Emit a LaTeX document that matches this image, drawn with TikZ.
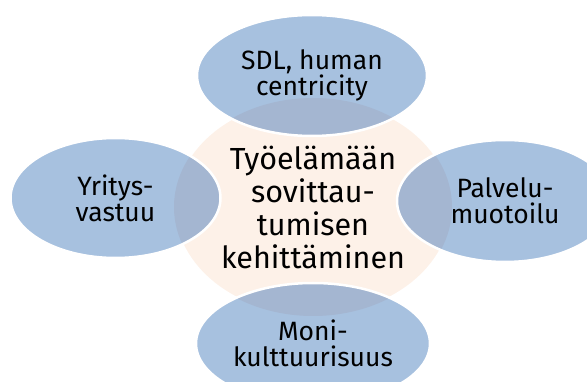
\documentclass[tikz,border=0pt]{standalone}
\usepackage{fontspec}
\setmainfont{Fira Sans}
\usetikzlibrary{shapes.geometric}
\definecolor{petalblue}{HTML}{A7C1DF}
\definecolor{petalover}{HTML}{A4B6D1}
\definecolor{hubpeach}{HTML}{FDF1E8}
\begin{document}
\begin{tikzpicture}[x=1pt,y=-1pt,
  hubshape/.style={ellipse, fill=hubpeach, draw=white, line width=2.5pt,
    inner sep=0pt, align=center, font=\fontsize{30.5}{33}\selectfont},
  % satellite ellipses: darker where they lie over the hub, white rim on top
  petal/.style={ellipse, fill=petalblue, inner sep=0pt, align=center,
    font=\fontsize{26.5}{26}\selectfont,
    path picture={\fill[petalover] (core.center) ellipse [x radius=139pt, y radius=109pt];},
    postaction={draw=white, line width=2.5pt}},
]
\useasboundingbox (0,0) rectangle (587,382);
\fill[white] (0,0) rectangle (587,382);

\node[hubshape, minimum width=278pt, minimum height=218pt] (core) at (313,207)
  {Työelämään\\sovittau-\\tumisen\\kehittäminen};

\node[petal, minimum width=230pt, minimum height=121pt,
  font=\fontsize{26.5}{23}\selectfont] (sdl) at (312,75.5)
  {SDL, human\\centricity};
\node[petal, minimum width=210pt, minimum height=120pt] (yritys) at (115.5,198)
  {Yritys-\\vastuu};
\node[petal, minimum width=216pt, minimum height=122pt] (palvelu) at (505,201)
  {Palvelu-\\muotoilu};
\node[petal, minimum width=234pt, minimum height=121pt] (moni) at (313,343.5)
  {Moni-\\kulttuurisuus};
\end{tikzpicture}
\end{document}
